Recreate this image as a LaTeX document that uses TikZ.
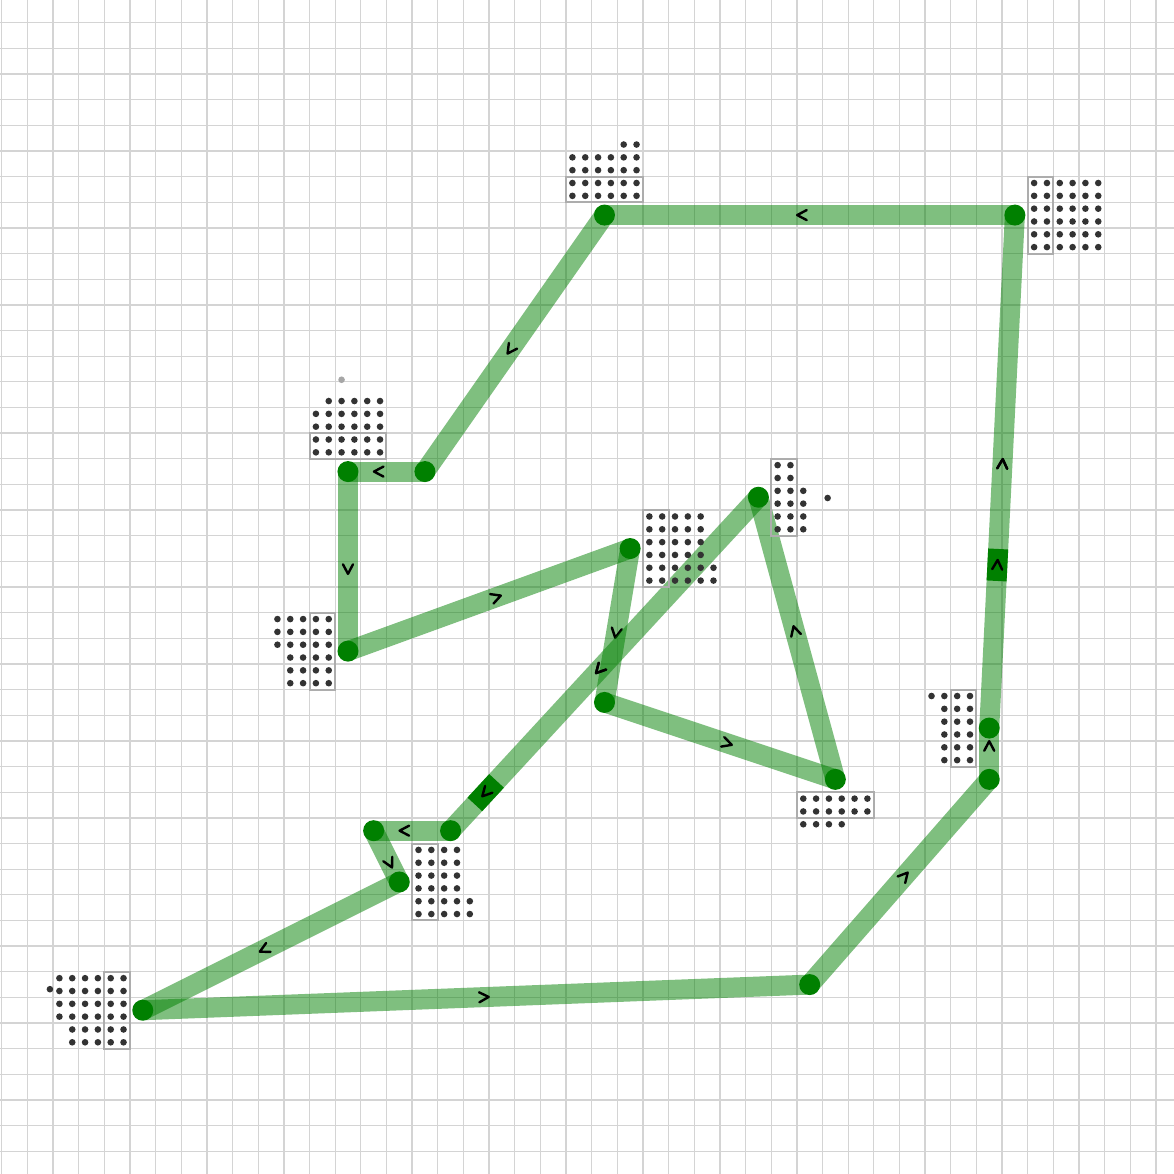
\documentclass[tikz,border=0pt]{standalone}
\usetikzlibrary{decorations.markings}
\definecolor{leaf}{RGB}{0,128,0}
\definecolor{inkdot}{RGB}{51,51,51}
\pgfdeclarelayer{background}
\pgfsetlayers{background,main}
\newcommand{\flowmark}{\draw[black,draw opacity=1,line width=2.4pt,line cap=round,line join=round] (-4.5pt,5pt) -- (5pt,0pt) -- (-4.5pt,-5pt);}
\newcommand{\dotpatch}[3]{\foreach \r/\a/\b in {#3} {\foreach \c in {\a,...,\b} {\fill[patchdot] ({#1+0.5*\c},{#2+0.5*\r}) circle (3.3pt);}}}
\tikzset{waypoint/.style={circle,fill=leaf,minimum size=21pt,inner sep=0pt},gridline/.style={draw=black!17,line width=1.3pt},patchbox/.style={draw=black!32,line width=2pt},patchdot/.style={fill=inkdot},route/.style={draw=leaf,draw opacity=0.5,line width=20pt,postaction={decorate},decoration={markings,mark=at position 0.5 with {\begin{scope}[xshift=7.5pt]\flowmark\end{scope}}}},held/.style={postaction={decorate,decoration={markings,mark=at position #1 with {\fill[leaf,fill opacity=1] (-16pt,-10pt) rectangle (16pt,10pt); \flowmark}}}}}

\begin{document}
\begin{tikzpicture}[x=25.65pt,y=-25.65pt]
\useasboundingbox (-0.0663,0.115) rectangle (45.665,45.885);
\begin{pgfonlayer}{background}
\fill[white] (-0.0663,0.115) rectangle (45.665,45.885);
\foreach \i in {0,...,45} \draw[gridline] (\i,0.1) -- (\i,45.9);
\foreach \j in {1,...,45} \draw[gridline] (-0.1,\j) -- (45.7,\j);
\end{pgfonlayer}

\node[waypoint] (p1) at (39.5,8.5) {};
\node[waypoint] (p2) at (23.5,8.5) {};
\node[waypoint] (p3) at (16.5,18.5) {};
\node[waypoint] (p4) at (13.5,18.5) {};
\node[waypoint] (p5) at (13.5,25.5) {};
\node[waypoint] (p6) at (24.5,21.5) {};
\node[waypoint] (p7) at (23.5,27.5) {};
\node[waypoint] (p8) at (32.5,30.5) {};
\node[waypoint] (p9) at (29.5,19.5) {};
\node[waypoint] (p10) at (17.5,32.5) {};
\node[waypoint] (p11) at (14.5,32.5) {};
\node[waypoint] (p12) at (15.5,34.5) {};
\node[waypoint] (p13) at (5.5,39.5) {};
\node[waypoint] (p14) at (31.5,38.5) {};
\node[waypoint] (p15) at (38.5,30.5) {};
\node[waypoint] (p16) at (38.5,28.5) {};

\begin{pgfonlayer}{background}
\draw[route] (p1.center) -- (p2.center);
\draw[route] (p2.center) -- (p3.center);
\draw[route] (p3.center) -- (p4.center);
\draw[route] (p4.center) -- (p5.center);
\draw[route] (p5.center) -- (p6.center);
\draw[route] (p6.center) -- (p7.center);
\draw[route] (p7.center) -- (p8.center);
\draw[route] (p8.center) -- (p9.center);
\draw[route,held=0.886] (p9.center) -- (p10.center);
\draw[route] (p10.center) -- (p11.center);
\draw[route] (p11.center) -- (p12.center);
\draw[route] (p12.center) -- (p13.center);
\draw[route] (p13.center) -- (p14.center);
\draw[route] (p14.center) -- (p15.center);
\draw[route] (p15.center) -- (p16.center);
\draw[route,held=0.318] (p16.center) -- (p1.center);
\end{pgfonlayer}

\draw[patchbox] (22,7) rectangle (25,8);
\dotpatch{22.25}{5.75}{0/4/5,1/0/5,2/0/5,3/0/5,4/0/5}
\draw[patchbox] (40,7) rectangle (41,10);
\dotpatch{40.25}{7.25}{0/0/5,1/0/5,2/0/5,3/0/5,4/0/5,5/0/5}
\draw[patchbox] (12,17) rectangle (15,18);
\dotpatch{12.25}{15.75}{0/1/5,1/0/5,2/0/5,3/0/5,4/0/5}
\fill[black!35] (13.25,14.92) circle (3.3pt);
\draw[patchbox] (12,24) rectangle (13,27);
\dotpatch{10.75}{24.25}{0/0/4,1/0/4,2/0/4,3/1/4,4/1/4,5/1/4}
\draw[patchbox] (25,20) rectangle (26,23);
\dotpatch{25.25}{20.25}{0/0/4,1/0/4,2/0/4,3/0/4,4/0/5,5/0/5}
\draw[patchbox] (30,18) rectangle (31,21);
\dotpatch{30.25}{18.25}{0/0/1,1/0/1,2/0/2,3/0/2,4/0/2,5/0/2}
\fill[patchdot] (32.2,19.53) circle (3.3pt);
\draw[patchbox] (37,27) rectangle (38,30);
\dotpatch{36.25}{27.25}{0/0/3,1/1/3,2/1/3,3/1/3,4/1/3,5/1/3}
\draw[patchbox] (31,31) rectangle (34,32);
\dotpatch{31.25}{31.25}{0/0/5,1/0/5,2/0/3}
\draw[patchbox] (16,33) rectangle (17,36);
\dotpatch{16.25}{33.25}{0/0/3,1/0/3,2/0/3,3/0/3,4/0/4,5/0/4}
\draw[patchbox] (4,38) rectangle (5,41);
\dotpatch{2.25}{38.25}{0/0/5,1/0/5,2/0/5,3/0/5,4/1/5,5/1/5}
\fill[patchdot] (1.88,38.68) circle (3.3pt);
\end{tikzpicture}
\end{document}
